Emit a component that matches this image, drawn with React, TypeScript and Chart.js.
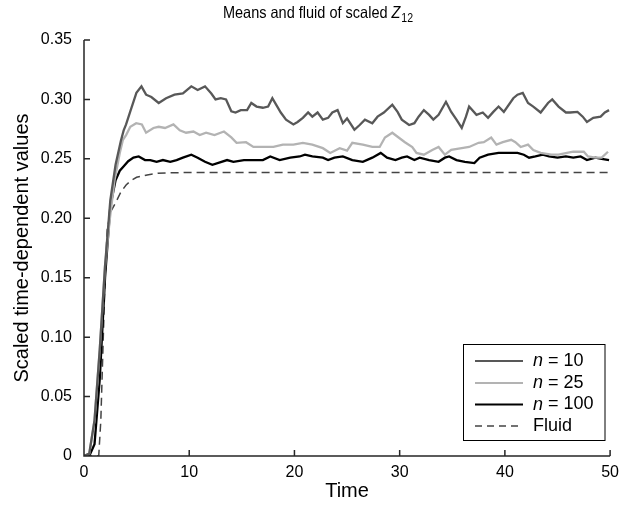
import { useEffect, useRef } from 'react';
import { Chart, registerables } from 'chart.js';

Chart.register(...registerables);

const FONT = '"Liberation Sans", Arial, Helvetica, sans-serif';

const xTicks = [0, 10, 20, 30, 40, 50];
const yTicks = [0, 0.05, 0.1, 0.15, 0.2, 0.25, 0.3, 0.35];

const seriesLabels = ['10', '25', '100'];
const fluidLabel = 'Fluid';

const n10Time = [0, 0.5, 1.0, 1.5, 2.0, 2.5, 3.0, 3.5, 3.77, 4.0, 4.4, 4.98, 5.46, 5.9, 6.4, 7.1, 7.8, 8.6, 9.4, 10.2, 10.8, 11.5, 12.1, 12.5, 13.0, 13.5, 14.0, 14.4, 14.9, 15.5, 15.9, 16.4, 17.0, 17.5, 17.9, 18.3, 18.7, 19.2, 19.9, 20.3, 20.8, 21.3, 21.7, 22.2, 22.7, 23.2, 23.6, 24.1, 24.6, 25.0, 25.7, 26.2, 26.7, 27.4, 27.9, 28.5, 29.3, 29.8, 30.2, 30.9, 31.4, 31.8, 32.3, 32.8, 33.2, 33.7, 34.4, 34.9, 35.4, 35.9, 36.3, 36.6, 37.3, 37.9, 38.4, 38.9, 39.4, 39.9, 40.8, 41.2, 41.7, 42.2, 42.7, 43.4, 44.1, 44.5, 45.1, 45.8, 46.2, 46.9, 47.4, 47.8, 48.4, 49.1, 49.5, 49.9];
const n10Values = [0, 0.002, 0.03, 0.09, 0.16, 0.215, 0.245, 0.265, 0.274, 0.279, 0.29, 0.3055, 0.311, 0.304, 0.302, 0.297, 0.301, 0.304, 0.305, 0.311, 0.308, 0.311, 0.305, 0.3, 0.301, 0.3, 0.29, 0.289, 0.291, 0.291, 0.297, 0.294, 0.293, 0.294, 0.301, 0.295, 0.289, 0.283, 0.279, 0.281, 0.2845, 0.289, 0.2855, 0.289, 0.283, 0.2845, 0.289, 0.291, 0.28, 0.284, 0.2745, 0.2785, 0.283, 0.28, 0.2855, 0.289, 0.2955, 0.2895, 0.283, 0.2785, 0.28, 0.2855, 0.291, 0.287, 0.283, 0.287, 0.298, 0.2895, 0.283, 0.276, 0.2855, 0.294, 0.287, 0.289, 0.2845, 0.2895, 0.294, 0.2895, 0.301, 0.304, 0.3055, 0.297, 0.294, 0.289, 0.297, 0.3, 0.294, 0.289, 0.289, 0.2895, 0.2855, 0.281, 0.2845, 0.2855, 0.289, 0.291];

const n25Time = [0, 0.5, 1.0, 1.5, 2.0, 2.45, 2.9, 3.4, 3.7, 4.0, 4.4, 4.96, 5.5, 5.9, 6.6, 7.1, 7.7, 8.5, 9.1, 9.7, 10.4, 11.0, 11.6, 12.4, 13.3, 14.0, 14.5, 15.4, 16.1, 17.0, 18.0, 18.9, 19.9, 20.8, 21.7, 22.7, 23.4, 24.3, 25.0, 25.5, 26.5, 27.4, 28.1, 28.6, 29.3, 29.9, 30.5, 31.2, 31.6, 32.3, 33.1, 33.7, 34.3, 34.9, 35.9, 36.6, 37.5, 38.0, 38.7, 39.2, 39.8, 40.6, 41.0, 41.5, 42.2, 42.7, 43.4, 44.4, 45.1, 45.9, 46.5, 47.5, 47.9, 48.6, 49.2, 49.8];
const n25Values = [0, 0.002, 0.03, 0.09, 0.16, 0.199, 0.232, 0.255, 0.266, 0.27, 0.277, 0.28, 0.279, 0.272, 0.276, 0.277, 0.276, 0.279, 0.274, 0.272, 0.273, 0.27, 0.272, 0.27, 0.273, 0.268, 0.2635, 0.264, 0.26, 0.26, 0.26, 0.262, 0.262, 0.2635, 0.262, 0.259, 0.255, 0.259, 0.257, 0.2635, 0.262, 0.26, 0.26, 0.268, 0.272, 0.268, 0.264, 0.26, 0.255, 0.2535, 0.2575, 0.26, 0.2535, 0.2575, 0.259, 0.26, 0.2635, 0.264, 0.268, 0.262, 0.264, 0.266, 0.264, 0.26, 0.262, 0.2575, 0.255, 0.2535, 0.2535, 0.255, 0.256, 0.256, 0.252, 0.251, 0.251, 0.256];

const n100Time = [0, 0.5, 1.0, 1.5, 2.0, 2.5, 3.0, 3.4, 3.8, 4.2, 4.7, 5.2, 5.8, 6.3, 6.9, 7.5, 8.2, 8.8, 9.4, 10.2, 10.8, 11.5, 12.2, 13.6, 14.2, 15.2, 16.1, 17.0, 17.7, 18.6, 19.6, 20.5, 21.0, 21.7, 22.7, 23.2, 23.8, 24.6, 25.5, 26.5, 27.4, 28.2, 28.8, 29.6, 30.2, 30.7, 31.4, 31.9, 32.8, 33.7, 34.3, 34.7, 35.4, 36.2, 37.1, 37.6, 38.4, 39.4, 40.3, 41.2, 41.8, 42.3, 42.9, 43.6, 44.2, 45.0, 45.8, 46.5, 47.2, 47.8, 48.6, 49.2, 49.9];
const n100Values = [0, 0, 0.01, 0.065, 0.15, 0.21, 0.232, 0.24, 0.244, 0.248, 0.251, 0.252, 0.249, 0.249, 0.2475, 0.249, 0.2475, 0.249, 0.251, 0.2535, 0.251, 0.2475, 0.245, 0.249, 0.2475, 0.249, 0.249, 0.249, 0.252, 0.249, 0.251, 0.252, 0.2535, 0.252, 0.251, 0.249, 0.251, 0.252, 0.249, 0.2475, 0.251, 0.255, 0.251, 0.249, 0.251, 0.252, 0.249, 0.251, 0.249, 0.2475, 0.251, 0.252, 0.249, 0.2475, 0.2465, 0.251, 0.2535, 0.255, 0.255, 0.255, 0.2535, 0.251, 0.252, 0.2535, 0.252, 0.251, 0.252, 0.251, 0.252, 0.249, 0.251, 0.25, 0.249];

const fluidTime = [0, 1.4, 1.6, 1.8, 2.0, 2.2, 2.5, 3.0, 3.5, 4.0, 4.5, 5.0, 6.0, 7.0, 8.0, 10.0, 50.0];
const fluidValues = [0, 0, 0.03, 0.09, 0.15, 0.19, 0.205, 0.213, 0.222, 0.228, 0.232, 0.2345, 0.2365, 0.2378, 0.2383, 0.2385, 0.2385];

const colors = ['#585858', '#b3b3b3', '#000000', '#444444'];

const toPoints = (t: number[], v: number[]) => t.map((x, i) => ({ x, y: v[i] }));

const decor = {
  id: 'decor',
  afterDraw(chart: any) {
    const { ctx, chartArea: a, scales } = chart;
    const xs = scales.x;
    const ys = scales.y;
    ctx.save();
    ctx.strokeStyle = '#262626';
    ctx.lineWidth = 1.5;
    ctx.beginPath();
    ctx.moveTo(a.left, a.top);
    ctx.lineTo(a.left, a.bottom);
    ctx.lineTo(a.right, a.bottom);
    xTicks.forEach((v) => {
      const p = xs.getPixelForValue(v);
      ctx.moveTo(p, a.bottom);
      ctx.lineTo(p, a.bottom - 6);
    });
    yTicks.forEach((v) => {
      const p = ys.getPixelForValue(v);
      ctx.moveTo(a.left, p);
      ctx.lineTo(a.left + 6, p);
    });
    ctx.stroke();

    // title: slightly condensed to match the narrow face of the original
    ctx.fillStyle = '#000';
    const t1 = 'Means and fluid of scaled ';
    const fs = 16.5;
    const sx = 0.88;
    ctx.font = `${fs}px ${FONT}`;
    const w1 = ctx.measureText(t1).width;
    ctx.font = `italic ${fs}px ${FONT}`;
    const w2 = ctx.measureText('Z').width;
    ctx.font = `12px ${FONT}`;
    const w3 = ctx.measureText('12').width;
    const total = (w1 + w2 + w3 + 1) * sx;
    ctx.save();
    ctx.translate(318 - total / 2, 18);
    ctx.scale(sx, 1);
    let tx = 0;
    ctx.textBaseline = 'alphabetic';
    ctx.textAlign = 'left';
    ctx.font = `${fs}px ${FONT}`;
    ctx.fillText(t1, tx, 0);
    tx += w1;
    ctx.font = `italic ${fs}px ${FONT}`;
    ctx.fillText('Z', tx, 0);
    tx += w2 + 1;
    ctx.font = `12px ${FONT}`;
    ctx.fillText('12', tx, 4);
    ctx.restore();

    ctx.font = `20px ${FONT}`;
    ctx.textAlign = 'center';
    ctx.textBaseline = 'middle';
    ctx.fillText('Time', (a.left + a.right) / 2, 491);
    ctx.save();
    ctx.translate(22, (a.top + a.bottom) / 2);
    ctx.rotate(-Math.PI / 2);
    ctx.fillText('Scaled time-dependent values', 0, 0);
    ctx.restore();

    const bx = 463.5, by = 344.5, bw = 141.5, bh = 96;
    ctx.fillStyle = '#fff';
    ctx.fillRect(bx, by, bw, bh);
    ctx.strokeStyle = '#000';
    ctx.lineWidth = 1;
    ctx.strokeRect(bx, by, bw, bh);
    const rows = [361, 383, 404.5, 426];
    const labels = [...seriesLabels.map((s) => ' = ' + s), fluidLabel];
    rows.forEach((ry, i) => {
      ctx.strokeStyle = colors[i];
      ctx.lineWidth = i === 3 ? 1.5 : 2.2;
      ctx.setLineDash(i === 3 ? [7, 5] : []);
      ctx.beginPath();
      ctx.moveTo(475, ry);
      ctx.lineTo(523, ry);
      ctx.stroke();
      ctx.setLineDash([]);
      ctx.fillStyle = '#000';
      ctx.textAlign = 'left';
      ctx.textBaseline = 'middle';
      let lx = 533;
      if (i < 3) {
        ctx.font = `italic 18px ${FONT}`;
        ctx.fillText('n', lx, ry);
        lx += ctx.measureText('n').width;
      }
      ctx.font = `18px ${FONT}`;
      ctx.fillText(labels[i], lx, ry);
    });
    ctx.restore();
  },
};

export default function App() {
  const ref = useRef<HTMLCanvasElement | null>(null);
  useEffect(() => {
    document.body.style.margin = '0';
    const canvas = ref.current;
    if (!canvas) return;
    const mk = (label: string, t: number[], v: number[], i: number, dash: number[] = []) => ({
      label,
      data: toPoints(t, v),
      borderColor: colors[i],
      borderWidth: i === 3 ? 1.5 : 2.3,
      borderDash: dash,
      pointRadius: 0,
      tension: 0,
      fill: false,
    });
    const chart = new Chart(canvas, {
      type: 'line',
      data: {
        datasets: [
          mk('n = ' + seriesLabels[0], n10Time, n10Values, 0),
          mk('n = ' + seriesLabels[1], n25Time, n25Values, 1),
          mk('n = ' + seriesLabels[2], n100Time, n100Values, 2),
          mk(fluidLabel, fluidTime, fluidValues, 3, [8, 5]),
        ],
      },
      options: {
        responsive: false,
        animation: false,
        devicePixelRatio: 1,
        layout: { padding: { top: 40, right: 2, left: 0, bottom: 0 } },
        plugins: { legend: { display: false }, title: { display: false }, tooltip: { enabled: false } },
        scales: {
          x: {
            type: 'linear',
            min: 0,
            max: 50,
            afterBuildTicks: (s: any) => { s.ticks = xTicks.map((value) => ({ value })); },
            afterFit: (s: any) => { s.height = 52; },
            grid: { display: false, drawTicks: false },
            border: { display: false },
            ticks: { color: '#000', font: { family: FONT, size: 16 }, padding: 7, maxRotation: 0 },
          },
          y: {
            type: 'linear',
            min: 0,
            max: 0.35,
            afterBuildTicks: (s: any) => { s.ticks = yTicks.map((value) => ({ value })); },
            afterFit: (s: any) => { s.width = 84; },
            grid: { display: false, drawTicks: false },
            border: { display: false },
            ticks: {
              color: '#000',
              font: { family: FONT, size: 16 },
              padding: 12,
              callback: (v: any) => (Number(v) === 0 ? '0' : Number(v).toFixed(2)),
            },
          },
        },
      },
      plugins: [decor],
    });
    return () => chart.destroy();
  }, []);
  return <canvas ref={ref} width={626} height={508} style={{ display: 'block' }} />;
}
